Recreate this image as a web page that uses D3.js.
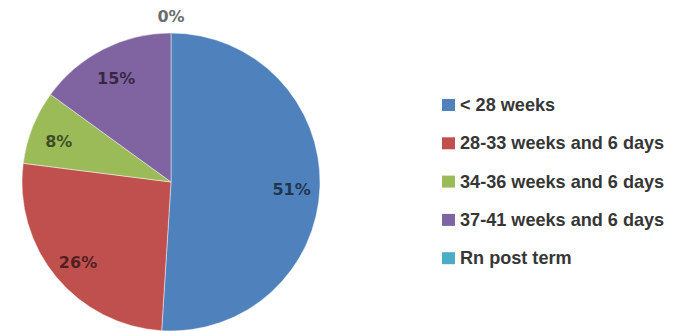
<!DOCTYPE html>
<html>
<head>
<meta charset="utf-8">
<script src="https://cdn.jsdelivr.net/npm/d3@7"></script>
<style>
  html, body { margin: 0; padding: 0; background: #fff; }
  svg { display: block; }
</style>
</head>
<body>
<svg id="chart" width="685" height="331"></svg>
<script>
// Gestational age groups and their share of births (%)
const categories = ["< 28 weeks", "28-33 weeks and 6 days", "34-36 weeks and 6 days", "37-41 weeks and 6 days", "Rn post term"];
const shares = [51, 26, 8, 15, 0];
const sliceColors = ["#4F81BD", "#C0504D", "#9BBB59", "#8064A2", "#4BACC6"];

const svg = d3.select("#chart");
const cx = 171, cy = 182, R = 149;

const data = categories.map((c, i) => ({ name: c, value: shares[i], color: sliceColors[i] }));

const pie = d3.pie().value(d => d.value).sort(null);
const arcs = pie(data);

const arc = d3.arc().innerRadius(0).outerRadius(R);
const labelArc = d3.arc().innerRadius(R * 0.81).outerRadius(R * 0.81);
const outerLabelArc = d3.arc().innerRadius(R + 17).outerRadius(R + 17);

const g = svg.append("g").attr("transform", `translate(${cx},${cy})`);

g.selectAll("path.slice")
  .data(arcs.filter(a => a.data.value > 0))
  .join("path")
  .attr("class", "slice")
  .attr("d", arc)
  .attr("fill", d => d.data.color)
  .attr("stroke", "rgba(255,255,255,0.45)")
  .attr("stroke-width", 1);

// Percentage labels: inside the slice, or above the pie for empty slices
g.selectAll("text.pct")
  .data(arcs)
  .join("text")
  .attr("class", "pct")
  .attr("transform", d => {
    const p = d.data.value > 0 ? labelArc.centroid(d) : outerLabelArc.centroid(d);
    return `translate(${p[0]},${p[1] + (d.data.value > 0 ? 4 : 0)})`;
  })
  .attr("text-anchor", "middle")
  .attr("dominant-baseline", "central")
  .attr("font-family", "'DejaVu Sans', sans-serif")
  .attr("font-weight", "bold")
  .attr("font-size", 16)
  .attr("fill", d => d.data.value > 0 ? "#000" : "#6d6d6d")
  .attr("fill-opacity", d => d.data.value > 0 ? 0.6 : 1)
  .text(d => d.data.value + "%");

// Legend
const legend = svg.append("g").attr("transform", "translate(442,105)");
const rowH = 38.3;
const rows = legend.selectAll("g.item")
  .data(data)
  .join("g")
  .attr("class", "item")
  .attr("transform", (d, i) => `translate(0,${i * rowH})`);

rows.append("rect")
  .attr("x", 0).attr("y", -6)
  .attr("width", 13).attr("height", 12)
  .attr("fill", d => d.color);

rows.append("text")
  .attr("x", 18)
  .attr("y", 0)
  .attr("dominant-baseline", "central")
  .attr("font-family", "'Liberation Sans', Arial, sans-serif")
  .attr("font-weight", "bold")
  .attr("font-size", 18.1)
  .attr("fill", "#363636")
  .text(d => d.name);
</script>
</body>
</html>
